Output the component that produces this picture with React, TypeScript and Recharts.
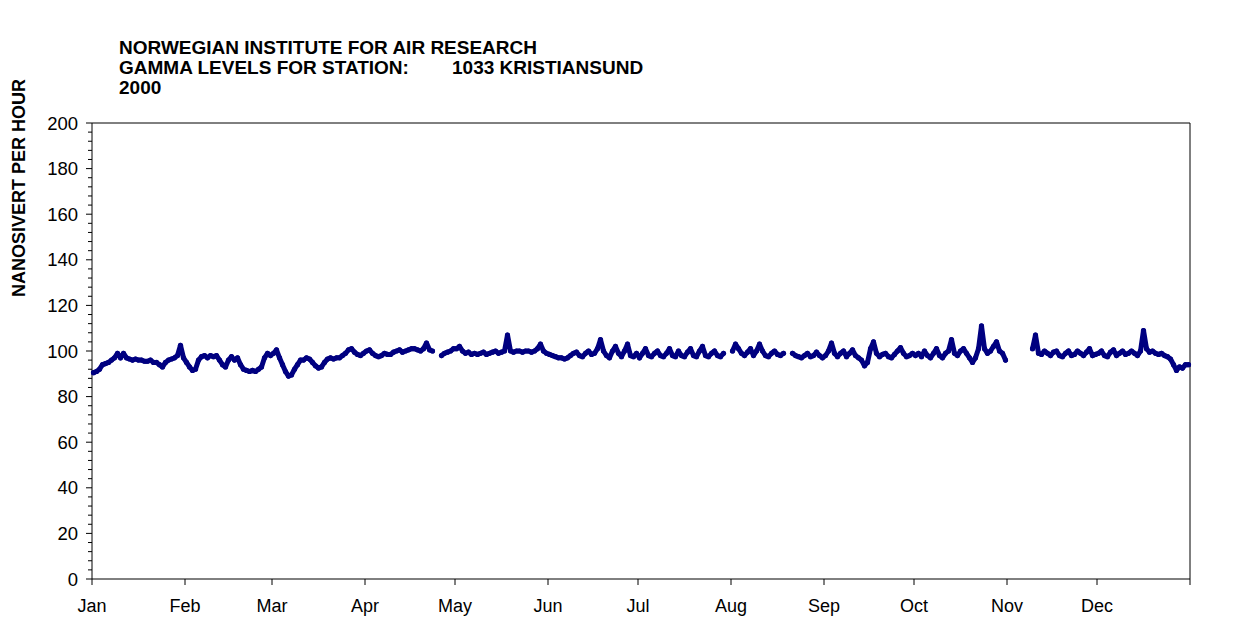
import React from "react";
import {
  LineChart,
  Line,
  XAxis,
  YAxis,
  ReferenceLine,
} from "recharts";

// daily gamma dose rate, nSv/h, null = no data
const jan = [90.5, 91, 92, 94, 94.5, 95, 96, 97, 99, 97, 99, 97, 96.5, 96, 96.5, 96, 96, 95.5, 95.5, 96, 95, 95, 94, 93, 95, 96, 96.5, 97, 98, 102.5, 97];
const feb = [95, 93, 91.5, 92, 96, 97.5, 98, 97, 98, 97.5, 98, 96, 94, 93, 96, 97.5, 96, 97, 94, 92, 91.5, 91, 91.5, 91, 92, 93, 97, 99, 98];
const mar = [99, 100.5, 97, 94, 91, 89, 89.5, 92, 94, 96, 96, 97, 96.5, 95, 93.5, 92.5, 93, 95, 96.5, 97, 96.5, 97, 97, 98, 99, 100.5, 101, 99.5, 98.5, 98, 99];
const apr = [100, 100.5, 99, 98, 97.5, 98, 99, 98.5, 98.5, 99.5, 100, 100.5, 99.5, 100, 100.5, 101, 101, 100.5, 100, 101, 103.5, 100.5, 100, null, null, 98, 99, 99.5, 100, 101];
const may = [101, 102, 100, 99, 99.5, 98.5, 99, 98.5, 99, 99.5, 98.5, 99, 99.5, 100, 99, 99.5, 100, 107, 100, 99.5, 100, 100, 99.5, 100, 100, 99.5, 100, 101, 103, 100, 99];
const jun = [98.5, 98, 97.5, 97, 97, 96.5, 97, 98, 99, 99.5, 98, 97.5, 99, 100, 98.5, 99, 101, 105, 100, 98, 97, 100, 102, 99, 97.5, 100, 103, 98, 97.5, 99];
const jul = [97, 99, 101, 98, 97.5, 99, 100, 98, 97.5, 99, 101, 98, 97.5, 100, 98, 97.5, 99.5, 101, 98, 97.5, 100, 102, 98, 97.5, 99, 100, 98, 97.5, 99, null, null];
const aug = [100, 103, 101, 99, 98, 99.5, 101, 98, 100, 103, 100, 98, 97.5, 99, 100, 98.5, 98, 99, null, null, 99, 98, 97.5, 97, 98, 99, 97.5, 98, 99.5, 98, 97];
const sep = [98, 100, 103.5, 99, 97.5, 99, 100, 97.5, 99, 100.5, 98, 97, 96, 93.5, 95, 101, 104, 99, 97.5, 98.5, 99, 97.5, 97, 98.5, 100, 101.5, 99, 97.5, 98, 99];
const oct = [98, 99, 97.5, 100, 98, 97, 99, 101, 98, 97, 99, 100, 105, 99, 98, 100, 101, 99, 97, 95, 97, 101, 111, 101, 99, 100, 102, 104, 100, 99, 96];
const nov = [null, null, null, null, null, null, null, null, 101, 107, 99, 98.5, 100, 99, 98, 99.5, 100, 98, 97.5, 99, 100, 98, 98.5, 100, 99, 98, 99.5, 101, 98, 98.5];
const dec = [99, 100, 98, 97.5, 99.5, 100.5, 98, 99, 100, 98.5, 99, 100, 99, 98, 100, 109, 101, 99.5, 100, 99, 98.5, 99, 98, 97.5, 96.5, 94, 91.5, 93, 92.5, 94, 94];

const months = ["Jan", "Feb", "Mar", "Apr", "May", "Jun", "Jul", "Aug", "Sep", "Oct", "Nov", "Dec"];
const monthStarts = [0, 31, 60, 91, 121, 152, 182, 213, 244, 274, 305, 335, 366];
const yTicks = Array.from({ length: 51 }, (_, i) => i * 4);

const daily = [...jan, ...feb, ...mar, ...apr, ...may, ...jun, ...jul, ...aug, ...sep, ...oct, ...nov, ...dec];
const data = daily.map((v, i) => ({ d: i + 0.5, v }));

const FONT = "'Liberation Sans', Arial, sans-serif";
const NAVY = "#000080";

const LeftTick = ({ x, y, payload }: any) => {
  const major = payload.value % 20 === 0;
  return (
    <g>
      <line x1={x} x2={x - (major ? 6 : 4)} y1={y} y2={y} stroke="#000" />
      {major && (
        <text x={x - 14} y={y} dy="0.36em" textAnchor="end" fontSize={18.5} fontFamily={FONT} fill="#000">
          {payload.value}
        </text>
      )}
    </g>
  );
};

const RightTick = ({ x, y, payload }: any) => {
  const major = payload.value % 20 === 0;
  return (
    <g>
      <line x1={x} x2={x + (major ? 6 : 4)} y1={y} y2={y} stroke="#000" />
      {major && (
        <text x={x + 8} y={y} dy="0.36em" textAnchor="start" fontSize={18.5} fontFamily={FONT} fill="#000">
          {payload.value}
        </text>
      )}
    </g>
  );
};

const BottomTick = ({ x, y, payload }: any) => {
  const idx = monthStarts.indexOf(payload.value);
  return (
    <g>
      <line x1={x} x2={x} y1={y} y2={y + 6} stroke="#000" />
      {idx >= 0 && idx < 12 && (
        <text x={x} y={y + 33} textAnchor="middle" fontSize={18} fontFamily={FONT} fill="#000">
          {months[idx]}
        </text>
      )}
    </g>
  );
};

export default function App() {
  return (
    <div style={{ position: "absolute", left: 0, top: 0, width: 1242, height: 619, background: "#fff" }}>
      <svg width={1242} height={619} style={{ position: "absolute", left: 0, top: 0 }}>
        <g fontFamily={FONT} fontWeight="bold" fontSize={19} fill="#000">
          <text x={119} y={54}>NORWEGIAN INSTITUTE FOR AIR RESEARCH</text>
          <text x={119} y={74}>GAMMA LEVELS FOR STATION:</text>
          <text x={452} y={74}>1033 KRISTIANSUND</text>
          <text x={119} y={94}>2000</text>
        </g>
        <text
          x={0}
          y={0}
          transform="translate(25 188) rotate(-90)"
          textAnchor="middle"
          fontFamily={FONT}
          fontWeight="bold"
          fontSize={18}
          fill="#000"
        >
          NANOSIVERT PER HOUR
        </text>
      </svg>
      <div style={{ position: "absolute", left: 0, top: 0 }}>
        <LineChart width={1242} height={619} data={data} margin={{ top: 123, right: 0, bottom: 0, left: 0 }}>
          <XAxis
            dataKey="d"
            type="number"
            domain={[0, 366]}
            ticks={monthStarts}
            interval={0}
            height={40}
            tickSize={0}
            tickMargin={0}
            tickLine={false}
            tick={<BottomTick />}
            axisLine={{ stroke: "#000" }}
          />
          <YAxis
            yAxisId="left"
            domain={[0, 200]}
            ticks={yTicks}
            interval={0}
            width={92}
            tickSize={0}
            tickMargin={0}
            tickLine={false}
            tick={<LeftTick />}
            axisLine={{ stroke: "#000" }}
          />
          <YAxis
            yAxisId="right"
            orientation="right"
            domain={[0, 200]}
            ticks={yTicks}
            interval={0}
            width={52}
            tickSize={0}
            tickMargin={0}
            tickLine={false}
            tick={<RightTick />}
            axisLine={{ stroke: "#000" }}
          />
          <ReferenceLine yAxisId="left" y={200} stroke="#000" />
          <Line
            yAxisId="left"
            type="linear"
            dataKey="v"
            stroke={NAVY}
            strokeWidth={5}
            strokeLinejoin="round"
            strokeLinecap="round"
            dot={{ r: 2.6, fill: NAVY, stroke: "none" }}
            connectNulls={false}
            isAnimationActive={false}
          />
        </LineChart>
      </div>
    </div>
  );
}
